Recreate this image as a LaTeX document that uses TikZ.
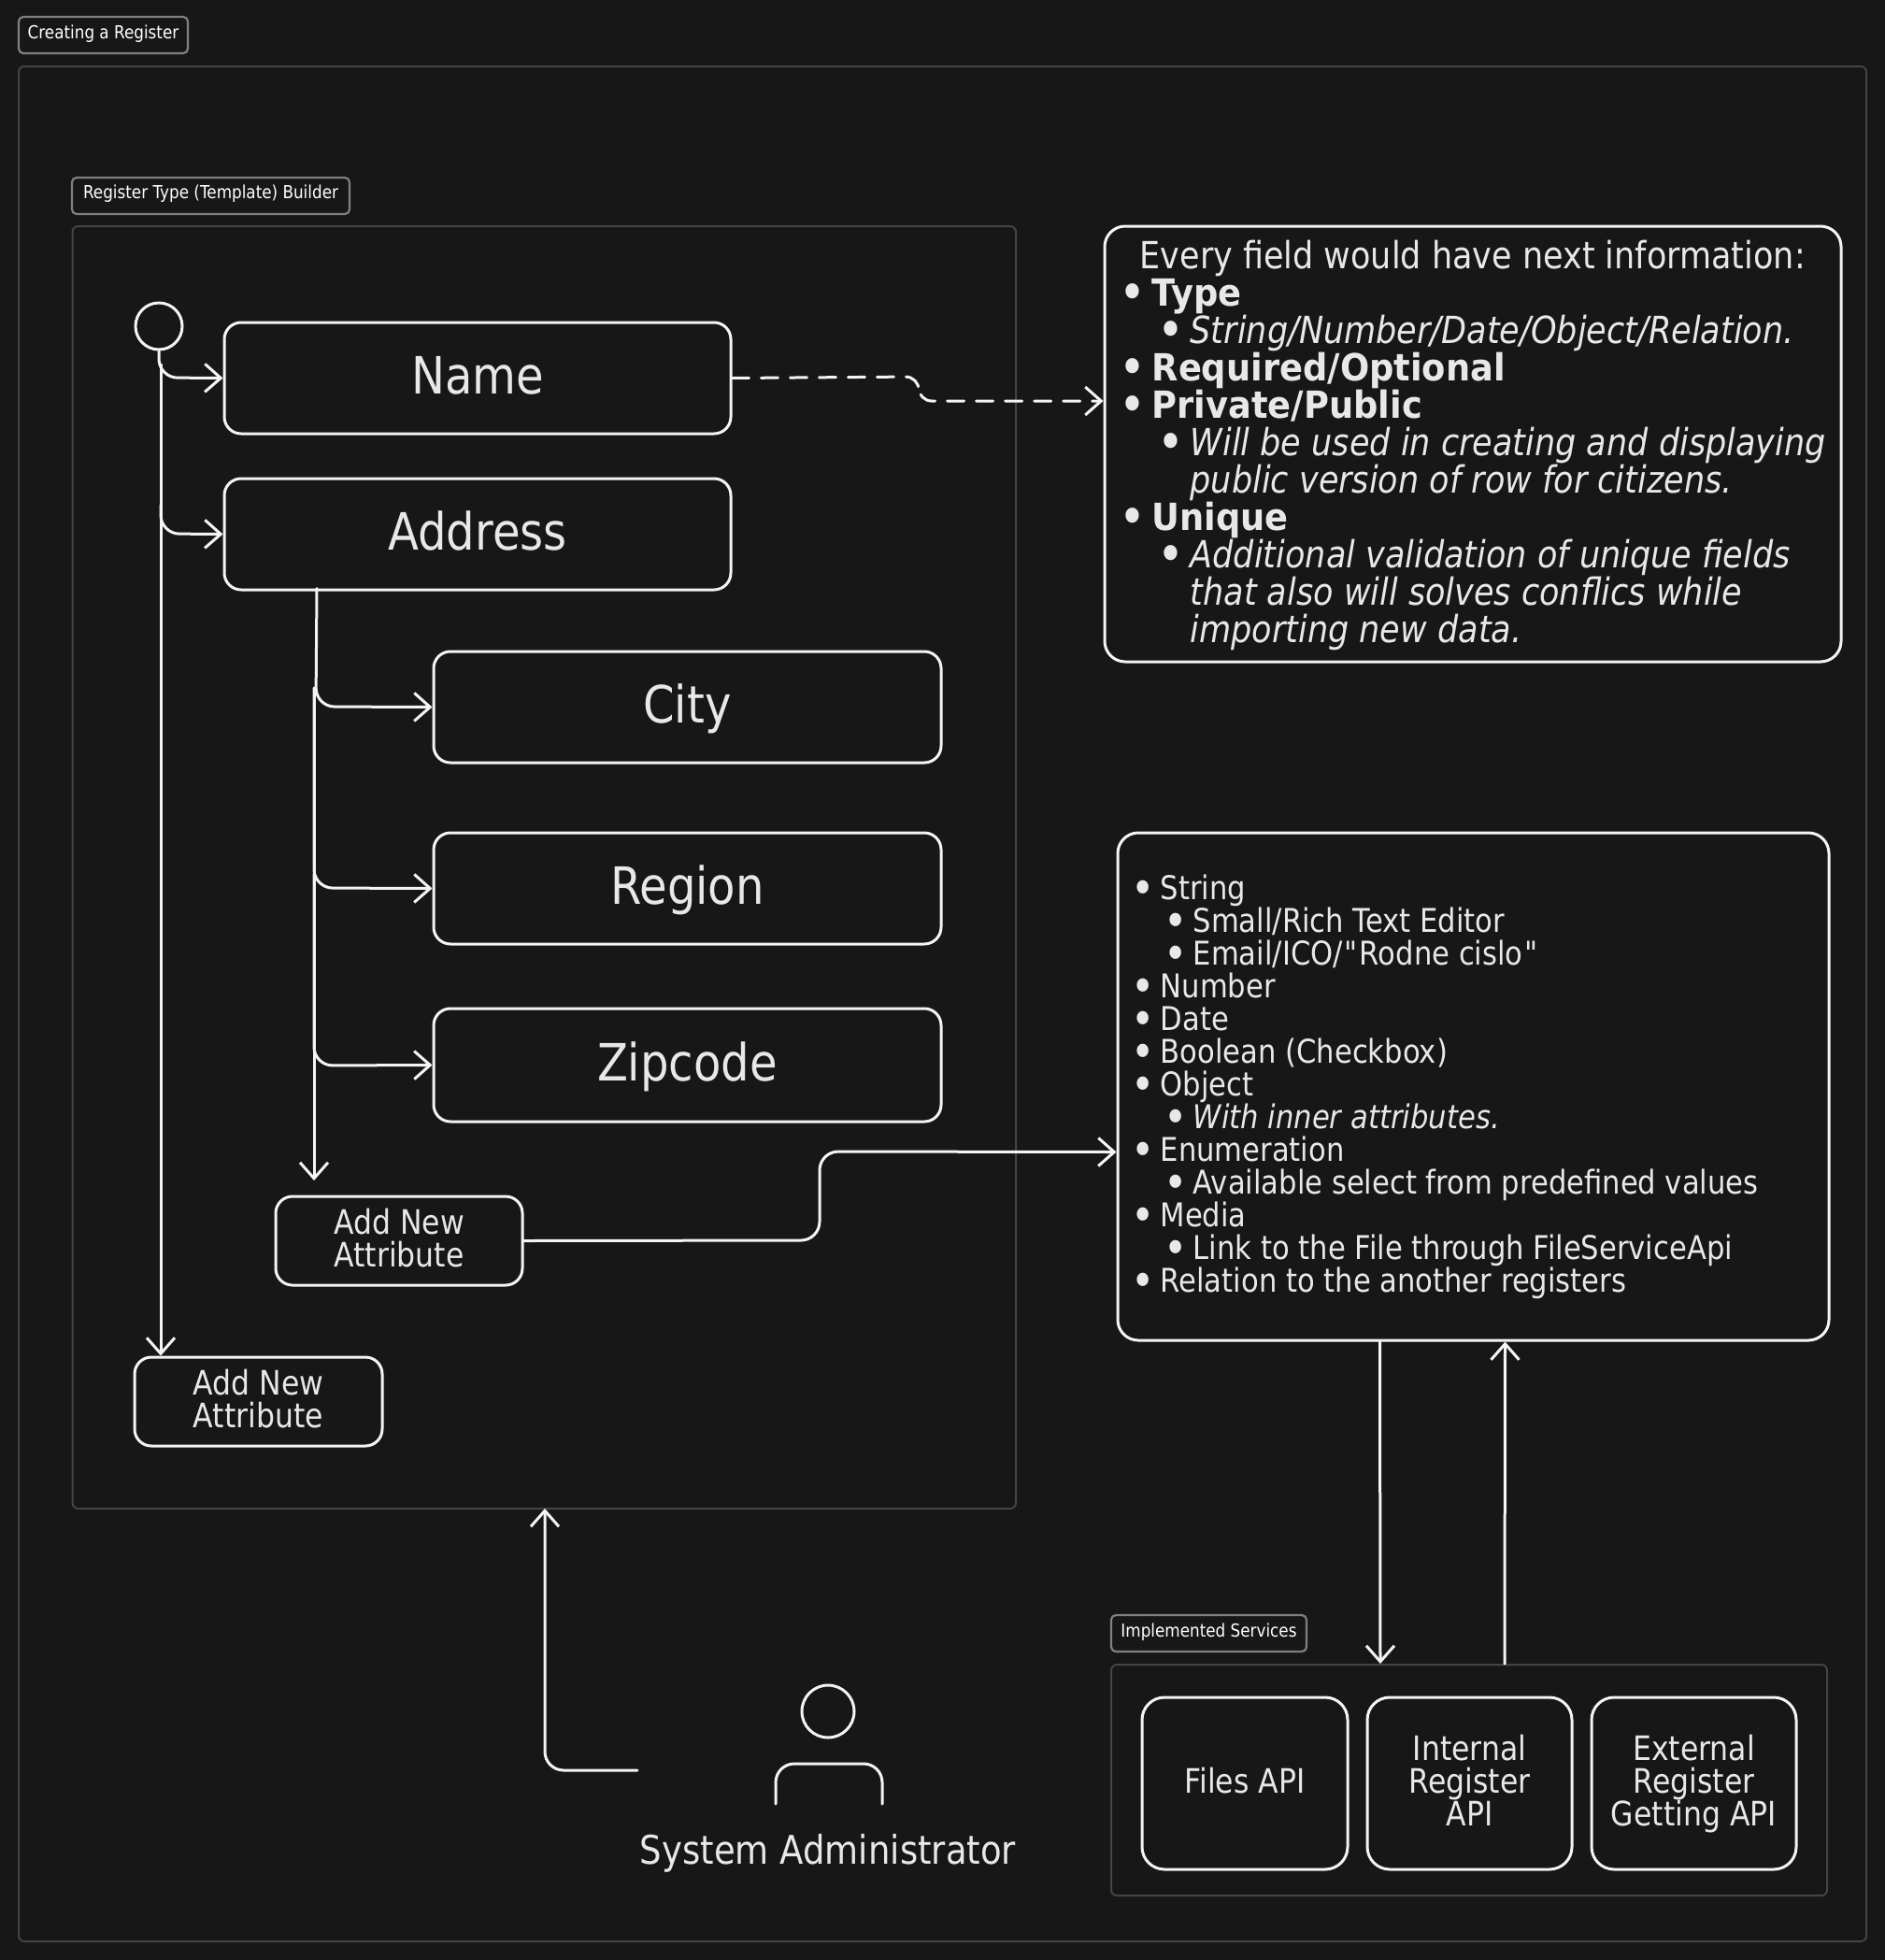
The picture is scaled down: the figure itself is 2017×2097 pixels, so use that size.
\documentclass[tikz,border=0pt]{standalone}
\usepackage{fontspec}
\usepackage{graphicx}
\setmainfont[FakeStretch=0.875,BoldFeatures={FakeStretch=0.92},ItalicFeatures={FakeStretch=0.876}]{DejaVu Sans}
\newfontfamily\plainf[FakeStretch=0.875]{DejaVu Sans}
\usetikzlibrary{arrows.meta,positioning}
\definecolor{bg}{HTML}{171717}
\definecolor{ink}{HTML}{F4F4F4}
\definecolor{txt}{HTML}{E8E8E8}
\definecolor{frameline}{HTML}{434445}
\definecolor{tagline}{HTML}{808080}
\newcommand{\fsz}[2]{\fontsize{#1}{#2}\selectfont}
\newcommand{\Lh}[2]{\makebox[0pt][l]{\hspace{#1pt}#2}\\}
\newcommand{\bul}{\raisebox{-0.13em}{\scalebox{1.4}{•}}}
\newcommand{\La}[3]{\makebox[0pt][l]{\hspace{#1pt}\makebox[0pt][l]{\hspace{-5.5pt}\bul}\hspace{#2pt}#3}\\}
\newcommand{\tl}[1]{\vbox{\hsize=190pt\centering\baselineskip=35pt\lineskiplimit=-100pt #1\vrule height0pt depth9pt width0pt\par\kern-3pt}}
\tikzset{
  x=1pt,y=-1pt,
  frm/.style={draw=frameline,line width=2pt,rounded corners=6pt},
  tagbox/.style={draw=tagline,line width=2.2pt,rounded corners=5pt,fill=bg},
  tagtext/.style={text=white,font=\fsz{19.2}{24},inner sep=0pt},
  shp/.style={draw=ink,line width=3pt,rounded corners=18pt,text=txt,align=center,inner sep=0pt},
  big/.style={shp,font=\fsz{55}{60},text height=47pt,text depth=14pt},
  small/.style={shp,font=\fsz{36}{35}},
  listtext/.style={text=txt,inner sep=0pt,anchor=north west,align=left},
  conn/.style={draw=ink,line width=3pt,rounded corners=20pt,line cap=round,-{Straight Barb[length=17pt,width=30pt,line width=3pt]}},
  seg/.style={draw=ink,line width=3pt,rounded corners=20pt,line cap=round},
}
\newcommand{\bx}[7]{\node[#1,minimum width=#5-#3,minimum height=#6-#4] (#2) at ({(#3+#5)/2},{(#4+#6)/2}) {#7};}
\begin{document}
\begin{tikzpicture}
\useasboundingbox[fill=bg] (0,0) rectangle (2017,2097);
% frames
\bx{frm}{outer}{20}{71}{1997}{2077}{}
\bx{tagbox}{tagA}{20}{18}{201}{57}{}
\node[tagtext] (tagAt) at (110.5,36) {Creating a Register};
\bx{frm}{inner}{77.5}{242}{1087}{1614}{}
\bx{tagbox}{tagB}{77}{190}{374}{229}{}
\node[tagtext] (tagBt) at (225.5,207) {Register Type (Template) Builder};
\bx{frm}{svc}{1189}{1781}{1955}{2028}{}
\bx{tagbox}{tagC}{1189}{1728}{1398}{1767}{}
\node[tagtext] (tagCt) at (1293.5,1746) {Implemented Services};
% start
\node[draw=ink,line width=3pt,circle,minimum size=50pt,inner sep=0pt] (start) at (170,349) {};
% boxes
\bx{big}{name}{240}{345}{782}{464}{Name}
\bx{big}{addr}{240}{512}{782}{631}{Address}
\bx{big}{city}{464}{697}{1007}{816}{City}
\bx{big}{region}{464}{891}{1007}{1010}{Region}
\bx{big}{zip}{464}{1079}{1007}{1200}{Zipcode}
\bx{small}{addA}{295}{1280}{559}{1375}{\tl{Add New\\Attribute}}
\bx{small}{addB}{144}{1452}{409}{1547}{\tl{Add New\\Attribute}}
\bx{shp,rounded corners=22pt}{fields}{1182}{242}{1970}{708}{}
\bx{shp,rounded corners=22pt}{types}{1196}{891}{1957}{1434}{}
\bx{small,rounded corners=24pt}{files}{1222}{1816}{1442}{2000}{\tl{Files API}}
\bx{small,rounded corners=24pt}{internal}{1463}{1816}{1682}{2000}{\tl{Internal\\Register\\API}}
\bx{small,rounded corners=24pt}{external}{1703}{1816}{1922}{2000}{\tl{External\\Register\\Getting API}}
% list texts
\node[listtext,font=\fsz{40}{40}] (fieldstext) at (1202,257) {%
\Lh{17}{Every field would have next information:}
\La{0}{30}{\textbf{Type}}
\La{41}{30}{\textit{String/Number/Date/Object/Relation.}}
\La{0}{30}{\textbf{Required/Optional}}
\La{0}{30}{\textbf{Private/Public}}
\La{41}{30}{\textit{Will be used in creating and displaying}}
\Lh{71}{\textit{public version of row for citizens.}}
\La{0}{30}{\textbf{Unique}}
\La{41}{30}{\textit{Additional validation of unique fields}}
\Lh{71}{\textit{that also will solves conflics while}}
\Lh{71}{\textit{importing new data.}}
};
\node[listtext,font=\fsz{35}{35}] (typestext) at (1215,936) {%
\La{0}{26}{String}
\La{35}{26}{Small/Rich Text Editor}
\La{35}{26}{Email/ICO/\hspace{2pt}{\plainf "}\hspace{2pt}Rodne cislo\hspace{2pt}{\plainf "}}
\La{0}{26}{Number}
\La{0}{26}{Date}
\La{0}{26}{Boolean (Checkbox)}
\La{0}{26}{Object}
\La{35}{26}{\textit{With inner attributes.}}
\La{0}{26}{Enumeration}
\La{35}{26}{Available select from predefined values}
\La{0}{26}{Media}
\La{35}{26}{Link to the File through FileServiceApi}
\La{0}{26}{Relation to the another registers}
};
% actor
\node[draw=ink,line width=3pt,circle,minimum size=56pt,inner sep=0pt] (head) at (886,1831) {};
\coordinate (shL) at (830,1930);
\coordinate (shR) at (944,1930);
\draw[seg] (shL) -- (830,1887) -- (944,1887) -- (shR);
\node[text=txt,font=\fsz{42.3}{46},inner sep=0pt] (admin) at (886,1983) {System Administrator};
% connectors
\coordinate (j1) at (172,390);
\coordinate (j2) at (172,540);
\coordinate (j3) at (336,736);
\coordinate (j4) at (336,935);
\coordinate (j5) at (336,1115);
\coordinate (j6) at (336,1263);
\coordinate (adminStart) at (682,1894);
\draw[conn] (start.south) -- (170,404) -- (name.west);
\draw[seg,-{Straight Barb[length=17pt,width=30pt,line width=3pt]},rounded corners=0pt] (j1) -- (addB.north -| j1);
\draw[conn] (j2) -- (172,571) -- (addr.west);
\draw[conn] ([xshift=-172pt,yshift=3pt]addr.south) -- (338,756) -- (city.west);
\draw[seg,rounded corners=0pt] (j3) -- (j5);
\draw[conn] (j3) -- (336,950) -- (region.west);
\draw[conn] (j4) -- (336,1140) -- (zip.west);
\draw[conn,rounded corners=0pt] (j5) -- (j6);
\draw[conn] (addA.east) -- (877,1327) -- (877,1232) -- ([yshift=-70pt]types.west);
\draw[conn,dashed,dash pattern=on 18pt off 13pt,rounded corners=14pt] (name.east) -- (983,403) -- (983,429) -- ([yshift=46pt]fields.west);
\draw[conn,rounded corners=0pt] ([xshift=-100pt]types.south) -- ([xshift=-95pt]svc.north);
\draw[conn,rounded corners=0pt] ([xshift=38pt]svc.north) -- ([xshift=34pt]types.south);
\draw[conn] (adminStart) -- (583,1894) -- (583,1614);
\end{tikzpicture}
\end{document}
